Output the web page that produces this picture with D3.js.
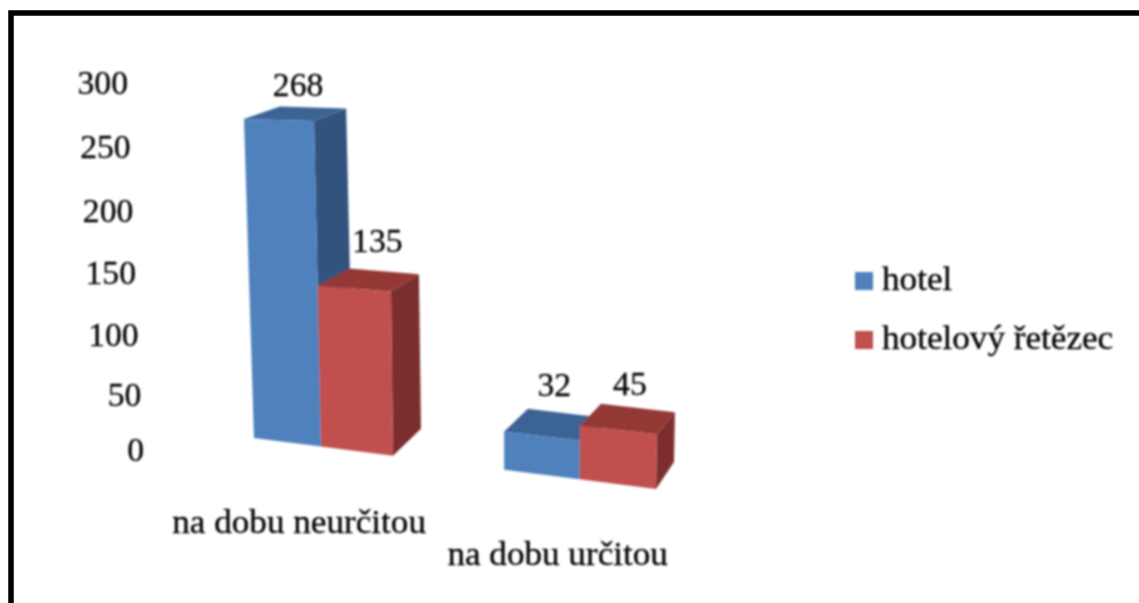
<!DOCTYPE html>
<html>
<head>
<meta charset="utf-8">
<script src="https://d3js.org/d3.v7.min.js"></script>
<style>
  html, body { margin: 0; padding: 0; background: #fff; }
  text { font-family: "Liberation Serif", serif; font-size: 33px; fill: #000; stroke: #000; stroke-width: 0.3px; }
</style>
</head>
<body>
<div id="plot"></div>
<script>
// values
var categories = ["na dobu neurčitou", "na dobu určitou"];
var seriesNames = ["hotel", "hotelový řetězec"];
var hotel = [268, 32];
var chain = [135, 45];
var tickValues = [0, 50, 100, 150, 200, 250, 300];

var seriesValues = [hotel, chain];

// colours per series: front, top, side
var frontColors = ["#4f81bd", "#c0504d"];
var topColors = ["#3a6394", "#943836"];
var sideColors = ["#30527e", "#7c2f2d"];

var width = 1139;
var height = 603;
var textStretch = 1.065;
var digitStretch = 1.02;
var gapInBars = 1.5;

// create svg
var svg = d3.select("#plot").append("svg")
    .attr("width", width)
    .attr("height", height)
    .style("display", "block");

// source is a blurry upscaled bitmap
svg.append("defs").append("filter")
    .attr("id", "soft")
    .append("feGaussianBlur")
    .attr("stdDeviation", 1);

// frame, open at right and bottom
svg.append("path")
    .attr("d", "M11,603V13H1139")
    .attr("fill", "none")
    .attr("stroke", "#000")
    .attr("stroke-width", 5.5);

var chart = svg.append("g").attr("filter", "url(#soft)");

// floor scales: bars sit on a slanted floor seen in perspective
var groupStep = seriesNames.length + gapInBars;
var xFloor = d3.scalePow()
    .exponent(1.05)
    .domain([0, (categories.length - 1) * groupStep + seriesNames.length])
    .range([254, 656]);
var yFloor = d3.scaleLinear().domain([254, 656]).range([438, 489]);

// height scales for left and right edge of a bar front
var heightLeft = d3.scaleLinear().domain([0, 300]).range([0, 357]);
var heightRight = d3.scaleLinear().domain([0, 300]).range([0, 364.5]);

// verticals lean towards a vanishing point, depth shrinks to the right and upwards
var lean = d3.scaleLinear().domain([254, 393, 656]).range([-0.0374, -0.015, 0.02]);
var depthX = d3.scaleLinear().domain([254, 393, 656]).range([36, 28, 18]);
var depthY = d3.scalePow().exponent(0.6).domain([0, 268]).range([27, 12.5]);

function project(u, v, right, back) {
    var fx = xFloor(u);
    var px = fx + lean(fx) * v;
    var py = yFloor(fx) - (right ? heightRight(v) : heightLeft(v));
    if (back) {
        px += depthX(fx);
        py -= depthY(v);
    }
    return [px, py];
}

// flatten to one record per bar, drawn left to right
var bars = [];
categories.forEach(function(c, i) {
    seriesNames.forEach(function(s, j) {
        bars.push({ cat: i, ser: j, value: seriesValues[j][i], u: i * groupStep + j });
    });
});

var outline = d3.line().curve(d3.curveLinearClosed);

var bar = chart.selectAll(".bar")
    .data(bars)
    .enter().append("g")
    .attr("class", "bar");

// side face
bar.append("path")
    .attr("fill", function(d) { return sideColors[d.ser]; })
    .attr("d", function(d) {
        return outline([
            project(d.u + 1, d.value, true, false),
            project(d.u + 1, d.value, true, true),
            project(d.u + 1, 0, true, true),
            project(d.u + 1, 0, true, false)
        ]);
    });

// top face
bar.append("path")
    .attr("fill", function(d) { return topColors[d.ser]; })
    .attr("d", function(d) {
        return outline([
            project(d.u, d.value, false, false),
            project(d.u + 1, d.value, true, false),
            project(d.u + 1, d.value, true, true),
            project(d.u, d.value, false, true)
        ]);
    });

// front face
bar.append("path")
    .attr("fill", function(d) { return frontColors[d.ser]; })
    .attr("d", function(d) {
        return outline([
            project(d.u, d.value, false, false),
            project(d.u + 1, d.value, true, false),
            project(d.u + 1, 0, true, false),
            project(d.u, 0, false, false)
        ]);
    });

// value labels, nudged from the middle of the back top edge
var labelNudge = [[-15, -11], [-7, -19], [-10, -17], [-8, -13]];
chart.selectAll(".value")
    .data(bars)
    .enter().append("text")
    .attr("class", "value")
    .attr("text-anchor", "middle")
    .attr("transform", function(d, i) {
        var a = project(d.u, d.value, false, true);
        var b = project(d.u + 1, d.value, true, true);
        var x = (a[0] + b[0]) / 2 + labelNudge[i][0];
        var y = (a[1] + b[1]) / 2 + labelNudge[i][1];
        return "translate(" + x + "," + y + ") scale(" + digitStretch + ",1)";
    })
    .text(function(d) { return d.value; });

// category labels follow the floor
chart.selectAll(".category")
    .data(categories)
    .enter().append("text")
    .attr("class", "category")
    .attr("text-anchor", "middle")
    .attr("transform", function(d, i) {
        var fx = xFloor(i * groupStep + 1);
        return "translate(" + (fx - 22) + "," + (yFloor(fx) + 86) + ") scale(" + textStretch + ",1)";
    })
    .text(function(d) { return d; });

// y axis: labels run along a slanted edge
var yTicks = d3.scalePow().exponent(1.06).domain([0, 300]).range([460, 93]);
var tickRight = d3.scaleLinear().domain([0, 300]).range([144, 128]);

var yAxis = chart.append("g")
    .attr("class", "y axis")
    .call(d3.axisLeft(yTicks).tickValues(tickValues).tickSize(0));

yAxis.select(".domain").remove();
yAxis.attr("font-family", null).attr("font-size", null);
yAxis.selectAll(".tick text")
    .attr("x", 0)
    .attr("dy", 0)
    .attr("transform", function(d) {
        return "translate(" + tickRight(d) + ",0) scale(" + digitStretch + ",1)";
    });

// legend
var legendY = d3.scalePoint().domain(seriesNames).range([290, 349]);
var legend = chart.selectAll(".legend")
    .data(seriesNames)
    .enter().append("g")
    .attr("class", "legend")
    .attr("transform", function(d) { return "translate(855," + legendY(d) + ")"; });

legend.append("rect")
    .attr("y", -18)
    .attr("width", 18)
    .attr("height", 18)
    .attr("fill", function(d, i) { return frontColors[i]; });

legend.append("text")
    .attr("transform", "translate(27,0) scale(" + textStretch + ",1)")
    .text(function(d) { return d; });
</script>
</body>
</html>
